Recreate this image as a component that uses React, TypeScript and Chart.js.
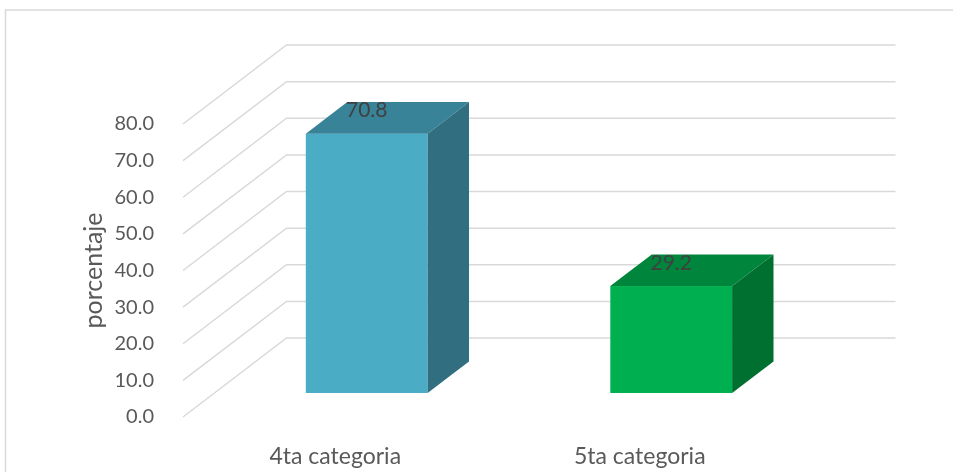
import React, { useEffect, useRef } from "react";
import { Chart, registerables } from "chart.js";

Chart.register(...registerables);

const categories = ["4ta categoria", "5ta categoria"];
const values = [70.8, 29.2];
const yTickValues = [0, 10, 20, 30, 40, 50, 60, 70, 80];
const frontColors = ["#4BACC6", "#00B050"];
const topColors = ["#388398", "#00853C"];
const sideColors = ["#316F80", "#007030"];
const yTitle = "porcentaje";

const FONT = "Lato";
const DX = 103.5; // depth of the 3D box (x)
const DY = 79; // depth of the 3D box (y)
const BAR_FRONT = 0.304; // bar front plane position in depth
const BAR_DEPTH = 0.4; // bar depth fraction
const GRID = "#d9d9d9";

const threeD = {
  id: "threeD",
  beforeDraw(chart: any) {
    const ctx = chart.ctx;
    ctx.save();
    ctx.strokeStyle = GRID;
    ctx.lineWidth = 1.5;
    ctx.beginPath();
    ctx.moveTo(5.5, 472);
    ctx.lineTo(5.5, 10);
    ctx.lineTo(953, 10);
    ctx.stroke();
    ctx.restore();
  },
  beforeDatasetsDraw(chart: any) {
    const ctx = chart.ctx;
    const { left, right } = chart.chartArea;
    const ys = chart.scales.y;
    ctx.save();
    ctx.strokeStyle = GRID;
    ctx.lineWidth = 1.5;
    ys.ticks.forEach((t: any) => {
      const py = ys.getPixelForValue(t.value);
      ctx.beginPath();
      ctx.moveTo(left, py);
      ctx.lineTo(left + DX, py - DY);
      ctx.lineTo(right + DX, py - DY);
      ctx.stroke();
    });
    ctx.restore();
  },
  afterDatasetsDraw(chart: any) {
    const ctx = chart.ctx;
    const meta = chart.getDatasetMeta(0);
    const ox = BAR_FRONT * DX;
    const oy = BAR_FRONT * DY;
    const bdx = BAR_DEPTH * DX;
    const bdy = BAR_DEPTH * DY;
    ctx.save();
    meta.data.forEach((el: any, i: number) => {
      const { x, y, base, width } = el.getProps(["x", "y", "base", "width"], true);
      const L = x - width / 2 + ox;
      const R = x + width / 2 + ox;
      const T = y - oy;
      const B = base - oy;
      // front
      ctx.fillStyle = frontColors[i];
      ctx.fillRect(L, T, R - L, B - T);
      // top
      ctx.fillStyle = topColors[i];
      ctx.beginPath();
      ctx.moveTo(L, T);
      ctx.lineTo(R, T);
      ctx.lineTo(R + bdx, T - bdy);
      ctx.lineTo(L + bdx, T - bdy);
      ctx.closePath();
      ctx.fill();
      // side
      ctx.fillStyle = sideColors[i];
      ctx.beginPath();
      ctx.moveTo(R, T);
      ctx.lineTo(R + bdx, T - bdy);
      ctx.lineTo(R + bdx, B - bdy);
      ctx.lineTo(R, B);
      ctx.closePath();
      ctx.fill();
      // label
      ctx.fillStyle = "#404040";
      ctx.font = `21px ${FONT}`;
      ctx.textAlign = "center";
      ctx.textBaseline = "middle";
      ctx.fillText(values[i].toFixed(1), x + ox, T - 23);
    });
    ctx.restore();
  },
};

export default function App() {
  const ref = useRef<HTMLCanvasElement>(null);
  useEffect(() => {
    if (!ref.current) return;
    const chart = new Chart(ref.current, {
      type: "bar",
      data: {
        labels: categories,
        datasets: [
          {
            data: values,
            backgroundColor: "rgba(0,0,0,0)",
            barPercentage: 0.4,
            categoryPercentage: 1,
          },
        ],
      },
      options: {
        animation: false,
        responsive: false,
        events: [],
        layout: { padding: { top: 124, right: 161, left: 0, bottom: 0 } },
        plugins: { legend: { display: false }, tooltip: { enabled: false } },
        scales: {
          x: {
            grid: { display: false },
            border: { display: false },
            ticks: { color: "#595959", font: { family: FONT, size: 23 }, padding: 18 },
            afterFit: (s: any) => {
              s.height = 55;
            },
          },
          y: {
            min: yTickValues[0],
            max: yTickValues[yTickValues.length - 1],
            grid: { display: false },
            border: { display: false },
            afterBuildTicks: (s: any) => {
              s.ticks = yTickValues.map((v) => ({ value: v }));
            },
            ticks: {
              color: "#595959",
              font: { family: FONT, size: 20 },
              padding: 21,
              callback: (v: any) => Number(v).toFixed(1),
            },
            title: {
              display: true,
              text: yTitle,
              color: "#595959",
              font: { family: FONT, size: 25 },
              padding: { top: 79, bottom: 0 },
            },
            afterFit: (s: any) => {
              s.width = 183;
            },
          },
        },
      },
      plugins: [threeD],
    });
    return () => chart.destroy();
  }, []);
  return (
    <div style={{ position: "absolute", left: 0, top: 0, width: 953, height: 472, background: "#fff" }}>
      <canvas ref={ref} width={953} height={472} style={{ width: 953, height: 472, display: "block" }} />
    </div>
  );
}
